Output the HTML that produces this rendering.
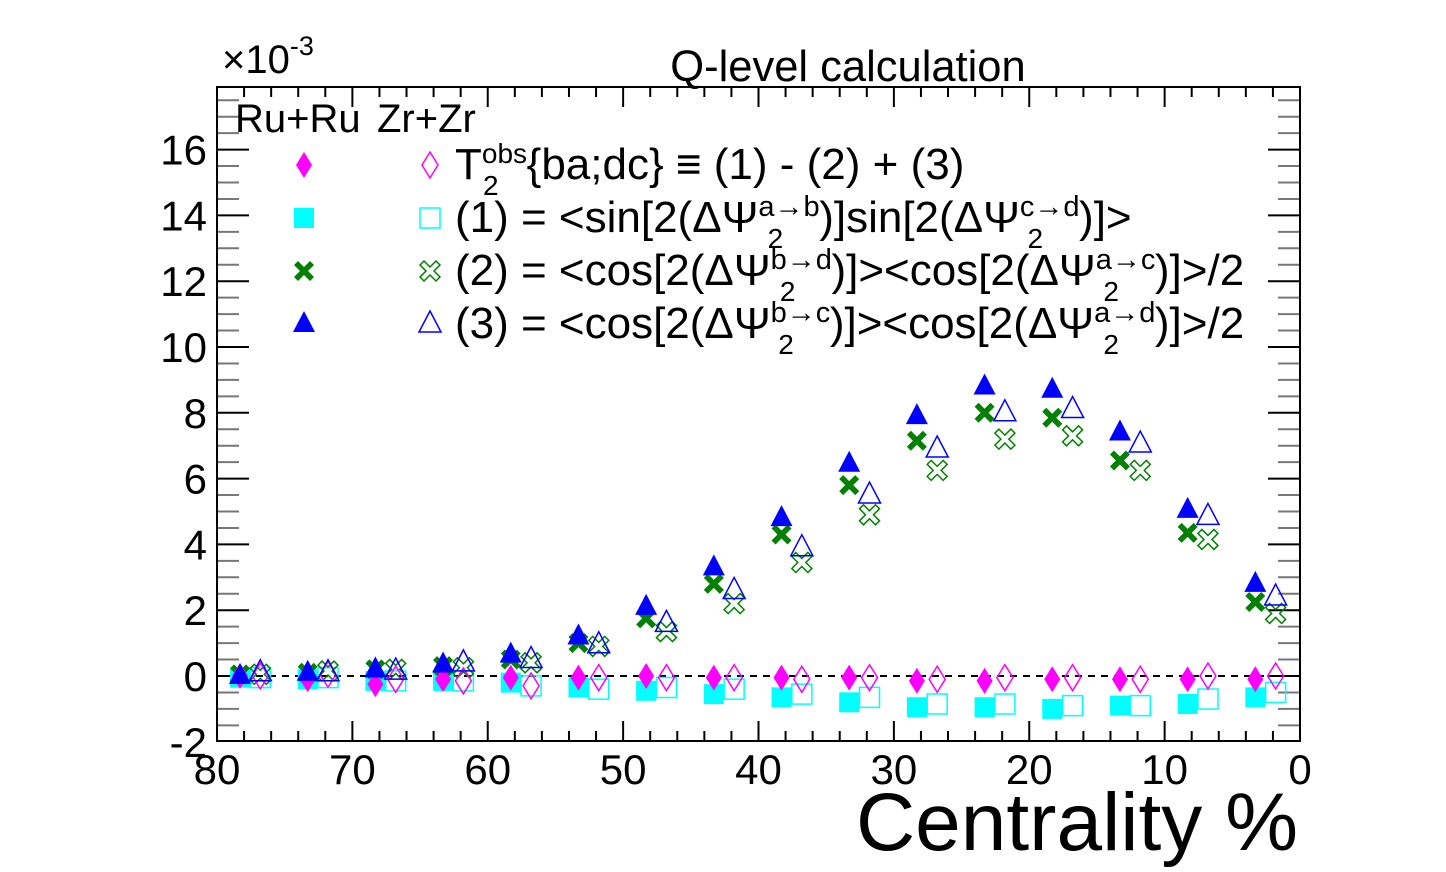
<!DOCTYPE html>
<html><head><meta charset="utf-8"><style>
html,body{margin:0;padding:0;background:#fff;}
svg{display:block;font-family:"Liberation Sans",Arial,sans-serif;}
</style></head><body>
<svg id="chart" width="1446" height="872" viewBox="0 0 1446 872" xmlns="http://www.w3.org/2000/svg">
<rect x="0" y="0" width="1446" height="872" fill="#fff"/>
<g id="ticks"></g>
<line x1="217" y1="676" x2="1300" y2="676" stroke="#000" stroke-width="2" stroke-dasharray="7,6"/>
<g id="marks"></g>
<rect x="217" y="87" width="1083" height="654" fill="none" stroke="#000" stroke-width="2"/>
<g id="labels" font-size="42"></g>
<text x="222" y="73" font-size="40">×10<tspan dy="-18" font-size="27">-3</tspan></text>
<text x="848" y="81" font-size="43.5" text-anchor="middle">Q-level calculation</text>
<text x="1298" y="850" font-size="82" text-anchor="end">Centrality %</text>
<text x="235" y="132" font-size="40">Ru+Ru</text>
<text x="377" y="132" font-size="40">Zr+Zr</text>
<g id="legend" font-size="44">
<text x="455" y="179">T<tspan dy="-16" font-size="28">obs</tspan><tspan dx="-44" dy="32" font-size="28">2</tspan><tspan dx="28" dy="-16">{ba;dc} ≡ (1) - (2) + (3)</tspan></text>
<text x="455" y="232">(1) = &lt;sin[2(ΔΨ<tspan dy="-16" font-size="29">a→b</tspan><tspan dx="-52" dy="32" font-size="28">2</tspan><tspan dx="36" dy="-16">)]sin[2(ΔΨ</tspan><tspan dy="-16" font-size="29">c→d</tspan><tspan dx="-52" dy="32" font-size="28">2</tspan><tspan dx="36" dy="-16">)]&gt;</tspan></text>
<text x="455" y="285">(2) = &lt;cos[2(ΔΨ<tspan dy="-16" font-size="29">b→d</tspan><tspan dx="-52" dy="32" font-size="28">2</tspan><tspan dx="36" dy="-16">)]&gt;&lt;cos[2(ΔΨ</tspan><tspan dy="-16" font-size="29">a→c</tspan><tspan dx="-52" dy="32" font-size="28">2</tspan><tspan dx="36" dy="-16">)]&gt;/2</tspan></text>
<text x="455" y="338">(3) = &lt;cos[2(ΔΨ<tspan dy="-16" font-size="29">b→c</tspan><tspan dx="-52" dy="32" font-size="28">2</tspan><tspan dx="36" dy="-16">)]&gt;&lt;cos[2(ΔΨ</tspan><tspan dy="-16" font-size="29">a→d</tspan><tspan dx="-52" dy="32" font-size="28">2</tspan><tspan dx="36" dy="-16">)]&gt;/2</tspan></text>
</g>
</svg>
<script>
const centFilled = [78.3,73.3,68.3,63.3,58.3,53.3,48.3,43.3,38.3,33.3,28.3,23.3,18.3,13.3,8.3,3.3];
const openOffset = 1.5;
const t2Ru = [0,-0.1,-0.25,-0.1,-0.05,-0.05,0,-0.05,-0.05,-0.05,-0.15,-0.15,-0.1,-0.1,-0.1,-0.1];
const t2Zr = [0,0.05,-0.1,-0.15,-0.3,-0.05,-0.05,-0.05,-0.1,-0.05,-0.1,-0.05,-0.05,-0.1,0,0];
const s1Ru = [-0.05,-0.1,-0.15,-0.15,-0.2,-0.35,-0.45,-0.55,-0.65,-0.8,-0.95,-0.95,-1.0,-0.9,-0.85,-0.65];
const s1Zr = [-0.05,-0.05,-0.15,-0.15,-0.3,-0.4,-0.35,-0.4,-0.55,-0.65,-0.85,-0.85,-0.9,-0.9,-0.7,-0.5];
const c2Ru = [0.05,0.1,0.2,0.3,0.5,1.0,1.75,2.8,4.3,5.8,7.15,8.0,7.85,6.55,4.35,2.25];
const c2Zr = [0.05,0.15,0.2,0.25,0.4,0.9,1.35,2.2,3.45,4.9,6.25,7.2,7.3,6.25,4.15,1.9];
const c3Ru = [0,0.1,0.2,0.35,0.65,1.2,2.1,3.3,4.8,6.45,7.9,8.8,8.7,7.4,5.05,2.8];
const c3Zr = [0.1,0.1,0.15,0.4,0.5,0.95,1.6,2.6,3.9,5.5,6.9,8.0,8.1,7.05,4.85,2.4];
const xTicks = [80,70,60,50,40,30,20,10,0];
const yTicks = [-2,0,2,4,6,8,10,12,14,16];

const NS="http://www.w3.org/2000/svg";
const X0=217,X1=1300,Y0=741,YT=87;
function xs(c){return X0+(80-c)*(X1-X0)/80;}
function ys(v){return 676-v*32.9;}
function mk(tag,attrs,parent){const e=document.createElementNS(NS,tag);for(const k in attrs)e.setAttribute(k,attrs[k]);parent.appendChild(e);return e;}
const tg=document.getElementById('ticks'), lg=document.getElementById('labels'), mg=document.getElementById('marks');
for(let c=0;c<=80;c+=2){const x=xs(c);const major=c%10===0;const L=major?20:10;
 const a=mk('line',{x1:x,y1:Y0,x2:x,y2:Y0-L,stroke:'#000','stroke-width':2},tg);
 
 
 const b=mk('line',{x1:x,y1:YT,x2:x,y2:YT+L,stroke:'#000','stroke-width':2},tg);
 
 }
for(let v=-2;v<=17.9;v+=0.5){const y=ys(v);if(y<YT||y>Y0)continue;const major=Math.abs(v%2)<1e-6;const L=major?32:22;
 const col=major?'#000':'#777';
 const a=mk('line',{x1:X0,y1:y,x2:X0+L,y2:y,stroke:col,'stroke-width':2},tg);
 
 
 const b=mk('line',{x1:X1,y1:y,x2:X1-L,y2:y,stroke:col,'stroke-width':2},tg);
 
 }
xTicks.forEach(c=>{const t=mk('text',{x:xs(c),y:784,'text-anchor':'middle'},lg);t.textContent=c;
 
 });
yTicks.forEach(v=>{const t=mk('text',{x:207,y:ys(v)+15,'text-anchor':'end'},lg);t.textContent=v;
 
 });
function marker(type,filled,col,x,y,g){let e;const f=filled?col:'none',sw=filled?0:1.5;
 if(type==='tri')e=mk('polygon',{points:`${x},${y-13} ${x+11},${y+8} ${x-11},${y+8}`,fill:f,stroke:col,'stroke-width':sw},g);
 else if(type==='dia')e=mk('polygon',{points:`${x},${y-13} ${x+8},${y} ${x},${y+13} ${x-8},${y}`,fill:f,stroke:col,'stroke-width':sw},g);
 else if(type==='sq')e=mk('rect',{x:x-10,y:y-10,width:20,height:20,fill:f,stroke:col,'stroke-width':sw},g);
 else{const s=10,w=4;e=mk('path',{d:`M${x-s+w},${y-s} L${x},${y-w} L${x+s-w},${y-s} L${x+s},${y-s+w} L${x+w},${y} L${x+s},${y+s-w} L${x+s-w},${y+s} L${x},${y+w} L${x-s+w},${y+s} L${x-s},${y+s-w} L${x-w},${y} L${x-s},${y-s+w} Z`,fill:f,stroke:col,'stroke-width':sw},g);}
 return e;}
const series=[['sq',s1Ru,s1Zr,'#00ffff','series-1'],['x',c2Ru,c2Zr,'#008000','series-2'],['dia',t2Ru,t2Zr,'#ff00ff','series-t2'],['tri',c3Ru,c3Zr,'#0000ff','series-3']];
series.forEach(([type,ru,zr,col,name])=>{
 centFilled.forEach((c,i)=>{
  const a=marker(type,true,col,xs(c),ys(ru[i]),mg);
  
  
  const b=marker(type,false,col,xs(c-openOffset),ys(zr[i]),mg);
  
  
 });});
const legRows=[['dia','#ff00ff',165],['sq','#00ffff',218],['x','#008000',271],['tri','#0000ff',324]];
const lgg=document.getElementById('legend');
legRows.forEach(([t,c,y])=>{
 const a=marker(t,true,c,304,y,lgg);
 
 
 const b=marker(t,false,c,430,y,lgg);
 
 });
</script>
</body></html>
